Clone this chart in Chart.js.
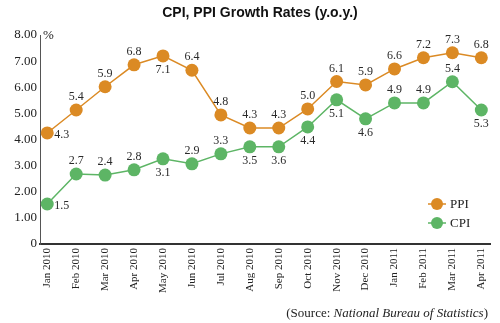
<!DOCTYPE html>
<html>
<head>
<meta charset="utf-8">
<script src="https://cdn.jsdelivr.net/npm/chart.js@4"></script>
<style>
  body { margin: 0; background: #fff; }
</style>
</head>
<body>
<canvas id="growthChart" width="500" height="323"></canvas>
<script>
// month categories
const months = ['Jan 2010', 'Feb 2010', 'Mar 2010', 'Apr 2010', 'May 2010', 'Jun 2010', 'Jul 2010', 'Aug 2010',
    'Sep 2010', 'Oct 2010', 'Nov 2010', 'Dec 2010', 'Jan 2011', 'Feb 2011', 'Mar 2011', 'Apr 2011'];

// where the dots sit in the picture
const ppiValues = [4.25, 5.13, 6.02, 6.86, 7.20, 6.65, 4.94, 4.44, 4.44, 5.17, 6.22, 6.09, 6.70, 7.13, 7.32, 7.13];
const cpiValues = [1.53, 2.68, 2.64, 2.84, 3.26, 3.07, 3.45, 3.72, 3.72, 4.48, 5.52, 4.79, 5.40, 5.40, 6.21, 5.13];

// numbers printed next to the dots
const ppiLabels = ['4.3', '5.4', '5.9', '6.8', '7.1', '6.4', '4.8', '4.3', '4.3', '5.0', '6.1', '5.9', '6.6', '7.2', '7.3', '6.8'];
const cpiLabels = ['1.5', '2.7', '2.4', '2.8', '3.1', '2.9', '3.3', '3.5', '3.6', '4.4', '5.1', '4.6', '4.9', '4.9', '5.4', '5.3'];

const yTicks = [0, 1, 2, 3, 4, 5, 6, 7, 8];

// label placement around each dot
const ppiPlace = ['right', 'above', 'above', 'above', 'below', 'above', 'above', 'above',
    'above', 'above', 'above', 'above', 'above', 'above', 'above', 'above'];
const cpiPlace = ['right', 'above', 'above', 'above', 'below', 'above', 'above', 'below',
    'below', 'below', 'below', 'below', 'above', 'above', 'above', 'below'];

const ORANGE = '#db8a24';
const GREEN = '#5db565';
const SERIF = '"Liberation Serif", "DejaVu Serif", serif';

const extras = {
    id: 'extras',
    afterDatasetsDraw(chart) {
        const ctx = chart.ctx;
        ctx.save();
        ctx.font = '12px ' + SERIF;
        ctx.fillStyle = '#2a2a2a';
        ctx.textBaseline = 'middle';
        chart.data.datasets.forEach((ds, di) => {
            const meta = chart.getDatasetMeta(di);
            meta.data.forEach((pt, i) => {
                const place = ds.labelPlace[i];
                if (place === 'right') {
                    ctx.textAlign = 'left';
                    ctx.fillText(ds.printed[i], pt.x + 7, pt.y + 2);
                } else if (place === 'below') {
                    ctx.textAlign = 'center';
                    ctx.fillText(ds.printed[i], pt.x, pt.y + 14);
                } else {
                    ctx.textAlign = 'center';
                    ctx.fillText(ds.printed[i], pt.x, pt.y - 13);
                }
            });
        });
        ctx.restore();
    },
    afterDraw(chart) {
        const ctx = chart.ctx;
        const area = chart.chartArea;
        ctx.save();
        // title
        ctx.font = 'bold 14px "Liberation Sans", Arial, sans-serif';
        ctx.fillStyle = '#111';
        ctx.textAlign = 'center';
        ctx.textBaseline = 'middle';
        ctx.fillText('CPI, PPI Growth Rates (y.o.y.)', 260, 13);

        // unit
        ctx.font = '13px ' + SERIF;
        ctx.fillStyle = '#222';
        ctx.textAlign = 'left';
        ctx.fillText('%', area.left + 3, area.top + 1);

        // legend
        chart.data.datasets.forEach((ds, i) => {
            const y = 204 + i * 19;
            const x = 437;
            ctx.strokeStyle = ds.borderColor;
            ctx.lineWidth = 1.5;
            ctx.beginPath();
            ctx.moveTo(x - 9, y);
            ctx.lineTo(x + 9, y);
            ctx.stroke();
            ctx.fillStyle = ds.backgroundColor;
            ctx.beginPath();
            ctx.arc(x, y, 6, 0, Math.PI * 2);
            ctx.fill();
            ctx.fillStyle = '#222';
            ctx.font = '13px ' + SERIF;
            ctx.fillText(ds.label, x + 13, y + 1);
        });

        // source line, mixed fonts, right aligned
        const parts = [
            ['(Source: ', '13px ' + SERIF],
            ['National Bureau of Statistics', 'italic 13px ' + SERIF],
            [')', '13px ' + SERIF]
        ];
        let total = 0;
        parts.forEach(p => { ctx.font = p[1]; total += ctx.measureText(p[0]).width; });
        let sx = 488 - total;
        ctx.fillStyle = '#222';
        ctx.textBaseline = 'alphabetic';
        parts.forEach(p => {
            ctx.font = p[1];
            ctx.fillText(p[0], sx, 317);
            sx += ctx.measureText(p[0]).width;
        });
        ctx.restore();
    }
};

new Chart(document.getElementById('growthChart'), {
    type: 'line',
    data: {
        datasets: [{
            label: 'PPI',
            data: ppiValues.map((v, i) => ({ x: i, y: v })),
            printed: ppiLabels,
            labelPlace: ppiPlace,
            borderColor: ORANGE,
            backgroundColor: ORANGE,
            borderWidth: 1.5,
            pointRadius: 6.5,
            pointBorderWidth: 0,
            pointBackgroundColor: ORANGE
        }, {
            label: 'CPI',
            data: cpiValues.map((v, i) => ({ x: i, y: v })),
            printed: cpiLabels,
            labelPlace: cpiPlace,
            borderColor: GREEN,
            backgroundColor: GREEN,
            borderWidth: 1.5,
            pointRadius: 6.5,
            pointBorderWidth: 0,
            pointBackgroundColor: GREEN
        }]
    },
    options: {
        responsive: false,
        animation: false,
        layout: { padding: { top: 35, right: 10, left: 0, bottom: 0 } },
        plugins: {
            legend: { display: false },
            tooltip: { enabled: false }
        },
        scales: {
            x: {
                type: 'linear',
                min: -0.25,
                max: 15.3,
                grid: { display: false, drawTicks: false, tickLength: 0 },
                border: { display: true, color: '#333', width: 2 },
                afterBuildTicks: scale => { scale.ticks = months.map((m, i) => ({ value: i })); },
                afterFit: scale => { scale.height = 79; },
                ticks: {
                    autoSkip: false,
                    minRotation: 90,
                    maxRotation: 90,
                    padding: 4,
                    color: '#222',
                    font: { family: SERIF, size: 11 },
                    callback: v => months[v]
                }
            },
            y: {
                min: 0,
                max: 8,
                grid: { display: false, drawTicks: false, tickLength: 0 },
                border: { display: true, color: '#555', width: 1 },
                afterBuildTicks: scale => { scale.ticks = yTicks.map(v => ({ value: v })); },
                afterFit: scale => { scale.width = 40; },
                ticks: {
                    padding: 3,
                    color: '#222',
                    font: { family: SERIF, size: 13 },
                    callback: v => v === 0 ? '0' : v.toFixed(2)
                }
            }
        }
    },
    plugins: [extras]
});
</script>
</body>
</html>
